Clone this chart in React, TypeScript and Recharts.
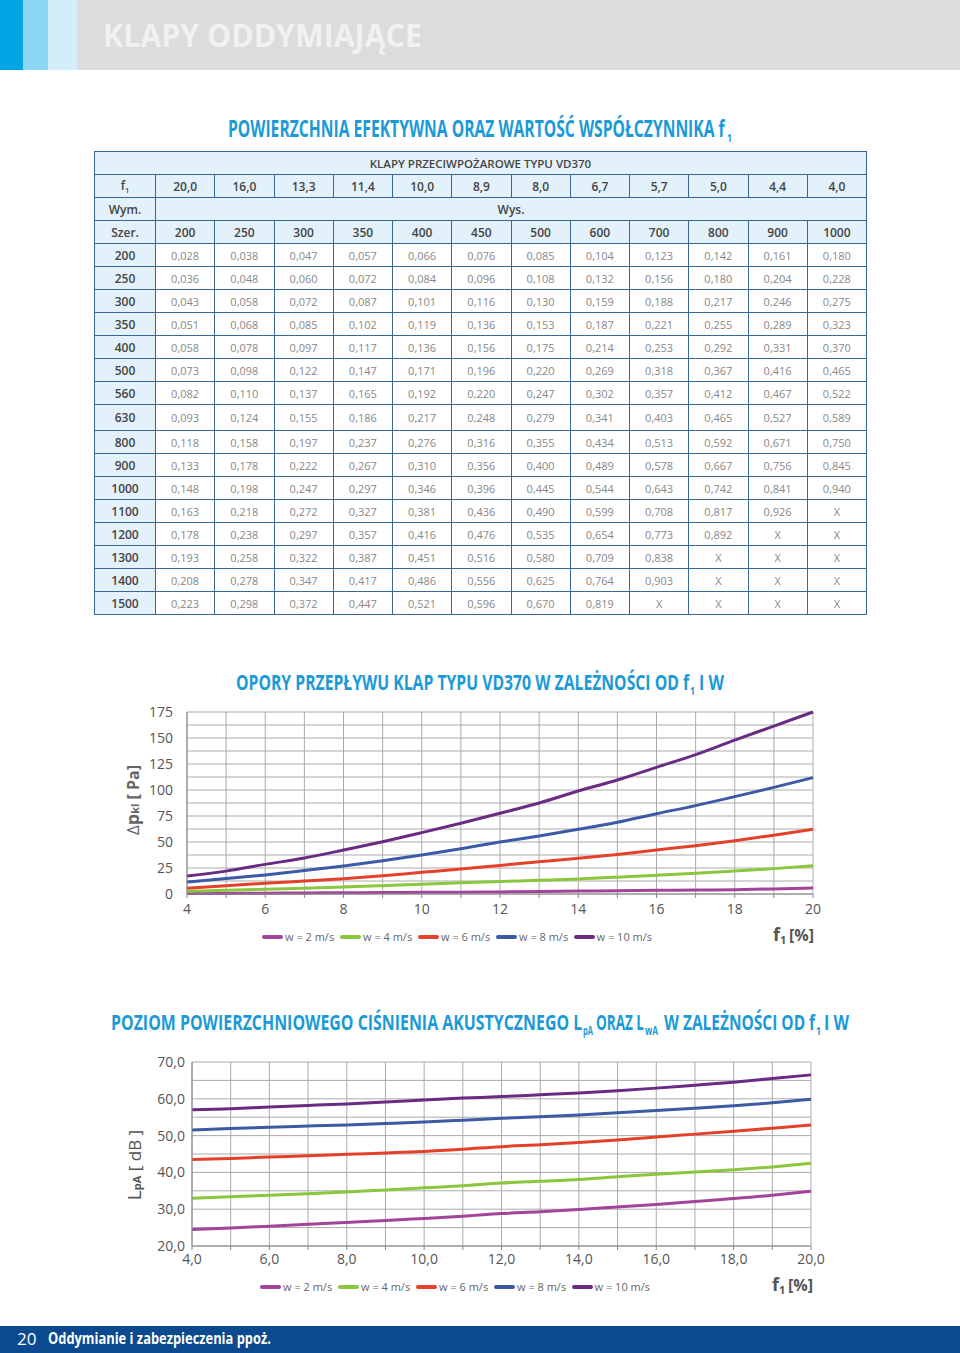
import React, { useLayoutEffect, useRef, useState } from 'react'
import { LineChart, Line, XAxis, YAxis, CartesianGrid } from 'recharts'

// ---- table data ----
const f1Row = ['20,0', '16,0', '13,3', '11,4', '10,0', '8,9', '8,0', '6,7', '5,7', '5,0', '4,4', '4,0']
const heightsRow = ['200', '250', '300', '350', '400', '450', '500', '600', '700', '800', '900', '1000']
const widthsCol = ['200', '250', '300', '350', '400', '500', '560', '630', '800', '900', '1000', '1100', '1200', '1300', '1400', '1500']
const areaRows = [
  ['0,028', '0,038', '0,047', '0,057', '0,066', '0,076', '0,085', '0,104', '0,123', '0,142', '0,161', '0,180'],
  ['0,036', '0,048', '0,060', '0,072', '0,084', '0,096', '0,108', '0,132', '0,156', '0,180', '0,204', '0,228'],
  ['0,043', '0,058', '0,072', '0,087', '0,101', '0,116', '0,130', '0,159', '0,188', '0,217', '0,246', '0,275'],
  ['0,051', '0,068', '0,085', '0,102', '0,119', '0,136', '0,153', '0,187', '0,221', '0,255', '0,289', '0,323'],
  ['0,058', '0,078', '0,097', '0,117', '0,136', '0,156', '0,175', '0,214', '0,253', '0,292', '0,331', '0,370'],
  ['0,073', '0,098', '0,122', '0,147', '0,171', '0,196', '0,220', '0,269', '0,318', '0,367', '0,416', '0,465'],
  ['0,082', '0,110', '0,137', '0,165', '0,192', '0,220', '0,247', '0,302', '0,357', '0,412', '0,467', '0,522'],
  ['0,093', '0,124', '0,155', '0,186', '0,217', '0,248', '0,279', '0,341', '0,403', '0,465', '0,527', '0,589'],
  ['0,118', '0,158', '0,197', '0,237', '0,276', '0,316', '0,355', '0,434', '0,513', '0,592', '0,671', '0,750'],
  ['0,133', '0,178', '0,222', '0,267', '0,310', '0,356', '0,400', '0,489', '0,578', '0,667', '0,756', '0,845'],
  ['0,148', '0,198', '0,247', '0,297', '0,346', '0,396', '0,445', '0,544', '0,643', '0,742', '0,841', '0,940'],
  ['0,163', '0,218', '0,272', '0,327', '0,381', '0,436', '0,490', '0,599', '0,708', '0,817', '0,926', 'X'],
  ['0,178', '0,238', '0,297', '0,357', '0,416', '0,476', '0,535', '0,654', '0,773', '0,892', 'X', 'X'],
  ['0,193', '0,258', '0,322', '0,387', '0,451', '0,516', '0,580', '0,709', '0,838', 'X', 'X', 'X'],
  ['0,208', '0,278', '0,347', '0,417', '0,486', '0,556', '0,625', '0,764', '0,903', 'X', 'X', 'X'],
  ['0,223', '0,298', '0,372', '0,447', '0,521', '0,596', '0,670', '0,819', 'X', 'X', 'X', 'X'],
]

// ---- chart data ----
const f1Axis = [4, 5, 6, 7, 8, 9, 10, 11, 12, 13, 14, 15, 16, 17, 18, 19, 20]

// opory przepływu [Pa]
const dpW2 = [0.4, 0.6, 0.8, 1.0, 1.2, 1.4, 1.6, 1.8, 2.0, 2.4, 2.8, 3.1, 3.5, 3.8, 4.2, 4.9, 5.8]
const dpW4 = [2.6, 3.5, 4.5, 5.6, 6.7, 8.0, 9.3, 10.7, 12.0, 13.2, 14.5, 16.2, 18.0, 20.0, 22.0, 24.4, 27.2]
const dpW6 = [5.5, 8.0, 10.3, 12.5, 14.7, 17.5, 20.8, 24.0, 27.5, 31.0, 34.3, 38.0, 42.3, 46.5, 51.3, 56.5, 62.2]
const dpW8 = [11.5, 14.8, 18.3, 22.5, 27.0, 32.0, 37.5, 43.5, 50.0, 55.8, 62.2, 69.0, 77.2, 85.0, 93.6, 102.5, 111.9]
const dpW10 = [17.3, 22.0, 28.5, 34.6, 42.3, 50.3, 59.0, 68.0, 77.6, 87.5, 99.0, 109.6, 121.8, 134.0, 148.0, 161.5, 175.0]
const dpTicks = [0, 12.5, 25, 37.5, 50, 62.5, 75, 87.5, 100, 112.5, 125, 137.5, 150, 162.5, 175]

// poziom ciśnienia akustycznego [dB]
const lpW2 = [24.5, 24.9, 25.4, 25.9, 26.4, 26.9, 27.5, 28.1, 28.8, 29.3, 29.9, 30.6, 31.3, 32.1, 32.9, 33.8, 34.9]
const lpW4 = [33.0, 33.4, 33.8, 34.2, 34.7, 35.2, 35.8, 36.4, 37.1, 37.6, 38.1, 38.8, 39.5, 40.1, 40.7, 41.5, 42.5]
const lpW6 = [43.5, 43.8, 44.2, 44.5, 44.9, 45.3, 45.7, 46.3, 47.0, 47.5, 48.1, 48.8, 49.6, 50.4, 51.2, 52.0, 52.9]
const lpW8 = [51.5, 51.9, 52.3, 52.6, 52.9, 53.3, 53.7, 54.2, 54.7, 55.1, 55.6, 56.2, 56.8, 57.4, 58.1, 58.9, 59.9]
const lpW10 = [57.0, 57.3, 57.8, 58.2, 58.6, 59.1, 59.7, 60.2, 60.6, 61.1, 61.6, 62.2, 62.9, 63.7, 64.5, 65.5, 66.5]
const lpTicks = [20, 25, 30, 35, 40, 45, 50, 55, 60, 65, 70]

const seriesNames = ['w = 2 m/s', 'w = 4 m/s', 'w = 6 m/s', 'w = 8 m/s', 'w = 10 m/s']
const seriesKeys = ['w2', 'w4', 'w6', 'w8', 'w10']
const seriesColors = ['#a3449b', '#8cc63f', '#e4412b', '#3c5aa5', '#6a2b82']

const dpData = f1Axis.map((f, i) => ({ f, w2: dpW2[i], w4: dpW4[i], w6: dpW6[i], w8: dpW8[i], w10: dpW10[i] }))
const lpData = f1Axis.map((f, i) => ({ f, w2: lpW2[i], w4: lpW4[i], w6: lpW6[i], w8: lpW8[i], w10: lpW10[i] }))

const BLUE = '#1b9ad7'
const GRID = '#ababab'
const TICK = { fill: '#555', fontSize: 14, fontFamily: '"Open Sans", sans-serif' }
const SANS = '"Open Sans", sans-serif'

// bold text squeezed horizontally (condensed look) to a given width
function Fit({ x, y, w, size, fill, children }: { x: number; y: number; w: number; size: number; fill: string; children: string }) {
  const ref = useRef<SVGTextElement>(null)
  const [k, setK] = useState(0.72)
  useLayoutEffect(() => {
    const n = ref.current ? ref.current.getComputedTextLength() : 0
    if (n > 0) setK(w / n)
  }, [w, children])
  return (
    <text ref={ref} transform={`translate(${x} ${y}) scale(${k} 1)`} fontFamily={SANS}
      fontWeight={700} fontSize={size} fill={fill}>
      {children}
    </text>
  )
}

function SizeTable() {
  const line = '1px solid #3a6896'
  const head = '#e3f1fa'
  const cell = (extra: React.CSSProperties = {}): React.CSSProperties => ({
    border: line, padding: 0, textAlign: 'center', ...extra,
  })
  const headTxt: React.CSSProperties = { color: '#444', fontWeight: 600, fontSize: 12, background: head }
  const valTxt: React.CSSProperties = { color: '#888', fontWeight: 400, fontSize: 11, background: '#fff' }
  return (
    <table style={{
      position: 'absolute', left: 94, top: 151, width: 772, borderCollapse: 'collapse',
      tableLayout: 'fixed', fontFamily: SANS, border: '1.5px solid #3a6896',
    }}>
      <colgroup>
        <col style={{ width: 61 }} />
        {f1Row.map((_, i) => <col key={i} style={{ width: 59.25 }} />)}
      </colgroup>
      <tbody>
        <tr style={{ height: 23 }}>
          <td colSpan={13} style={cell({ ...headTxt, fontSize: 11.5 })}>KLAPY PRZECIWPOŻAROWE  TYPU VD370</td>
        </tr>
        <tr style={{ height: 23 }}>
          <td style={cell(headTxt)}>f<sub style={{ fontSize: 7 }}>1</sub></td>
          {f1Row.map((v, i) => <td key={i} style={cell(headTxt)}>{v}</td>)}
        </tr>
        <tr style={{ height: 23 }}>
          <td style={cell(headTxt)}>Wym.</td>
          <td colSpan={12} style={cell(headTxt)}>Wys.</td>
        </tr>
        <tr style={{ height: 23 }}>
          <td style={cell(headTxt)}>Szer.</td>
          {heightsRow.map((v, i) => <td key={i} style={cell(headTxt)}>{v}</td>)}
        </tr>
        {areaRows.map((row, r) => (
          <tr key={r} style={{ height: widthsCol[r] === '630' ? 26 : 23 }}>
            <td style={cell(headTxt)}>{widthsCol[r]}</td>
            {row.map((v, i) => <td key={i} style={cell(valTxt)}>{v}</td>)}
          </tr>
        ))}
      </tbody>
    </table>
  )
}

function Legend({ left, top }: { left: number; top: number }) {
  return (
    <div style={{ position: 'absolute', left, top, display: 'flex', alignItems: 'center', fontFamily: SANS }}>
      {seriesNames.map((n, i) => (
        <div key={n} style={{ display: 'flex', alignItems: 'center', width: 78 }}>
          <span style={{ display: 'inline-block', width: 21, height: 4, borderRadius: 2, background: seriesColors[i], marginRight: 2 }} />
          <span style={{ fontSize: 11, color: '#666', whiteSpace: 'nowrap' }}>{n}</span>
        </div>
      ))}
    </div>
  )
}

function PressureChart() {
  return (
    <div style={{ position: 'absolute', left: 0, top: 700 }}>
      <LineChart width={960} height={260} data={dpData} margin={{ top: 12, right: 147, bottom: 36, left: 127 }}>
        <CartesianGrid stroke={GRID} />
        <XAxis
          dataKey="f" type="number" domain={[4, 20]} ticks={f1Axis} interval={0}
          tickFormatter={(v: number) => (v % 2 === 0 ? String(v) : '')}
          tick={TICK} tickSize={4} tickMargin={6}
          axisLine={{ stroke: '#888' }} tickLine={{ stroke: '#888' }}
        />
        <YAxis
          type="number" domain={[0, 175]} ticks={dpTicks} interval={0}
          tickFormatter={(v: number) => (v % 25 === 0 ? String(v) : '')}
          tick={TICK} tickSize={5} tickMargin={9}
          axisLine={{ stroke: '#888' }} tickLine={false}
        />
        {seriesKeys.map((k, i) => (
          <Line key={k} type="monotone" dataKey={k} stroke={seriesColors[i]} strokeWidth={3}
            dot={false} isAnimationActive={false} />
        ))}
      </LineChart>
    </div>
  )
}

function SoundChart() {
  return (
    <div style={{ position: 'absolute', left: 0, top: 1050 }}>
      <LineChart width={960} height={260} data={lpData} margin={{ top: 12, right: 149, bottom: 34, left: 132 }}>
        <CartesianGrid stroke={GRID} />
        <XAxis
          dataKey="f" type="number" domain={[4, 20]} ticks={f1Axis} interval={0}
          tickFormatter={(v: number) => (v % 2 === 0 ? v.toFixed(1).replace('.', ',') : '')}
          tick={TICK} tickSize={4} tickMargin={4}
          axisLine={{ stroke: '#888' }} tickLine={{ stroke: '#888' }}
        />
        <YAxis
          type="number" domain={[20, 70]} ticks={lpTicks} interval={0}
          tickFormatter={(v: number) => (v % 10 === 0 ? v.toFixed(1).replace('.', ',') : '')}
          tick={TICK} tickSize={5} tickMargin={2}
          axisLine={{ stroke: '#888' }} tickLine={false}
        />
        {seriesKeys.map((k, i) => (
          <Line key={k} type="monotone" dataKey={k} stroke={seriesColors[i]} strokeWidth={3}
            dot={false} isAnimationActive={false} />
        ))}
      </LineChart>
    </div>
  )
}

export default function App() {
  return (
    <div style={{ position: 'absolute', left: 0, top: 0, width: 960, height: 1353, background: '#fff', overflow: 'hidden' }}>
      {/* header band */}
      <div style={{ position: 'absolute', left: 0, top: 0, width: 960, height: 70, background: '#dcdcde' }} />
      <div style={{ position: 'absolute', left: 0, top: 0, width: 23, height: 70, background: '#00a6e4' }} />
      <div style={{ position: 'absolute', left: 23, top: 0, width: 25, height: 70, background: '#8dd5f5' }} />
      <div style={{ position: 'absolute', left: 48, top: 0, width: 29, height: 70, background: '#d3eefa' }} />
      {/* footer band */}
      <div style={{ position: 'absolute', left: 0, top: 1326, width: 960, height: 27, background: '#0b4a8f' }} />

      <SizeTable />
      <PressureChart />
      <SoundChart />
      <Legend left={262} top={929} />
      <Legend left={260} top={1279} />

      <svg width={960} height={1353} style={{ position: 'absolute', left: 0, top: 0, pointerEvents: 'none' }}>
        <Fit x={103} y={47} w={319} size={33} fill="#f1f1f1">KLAPY ODDYMIAJĄCE</Fit>

        <Fit x={228} y={137} w={497} size={24} fill={BLUE}>POWIERZCHNIA EFEKTYWNA ORAZ WARTOŚĆ WSPÓŁCZYNNIKA f</Fit>
        <Fit x={727} y={142} w={5} size={11} fill={BLUE}>1</Fit>

        <Fit x={236} y={690} w={453} size={21} fill={BLUE}>OPORY PRZEPŁYWU KLAP TYPU VD370 W ZALEŻNOŚCI OD f</Fit>
        <Fit x={690} y={695} w={5} size={10} fill={BLUE}>1</Fit>
        <Fit x={699} y={690} w={25} size={21} fill={BLUE}>I W</Fit>

        <Fit x={111} y={1030} w={471} size={21} fill={BLUE}>POZIOM POWIERZCHNIOWEGO CIŚNIENIA AKUSTYCZNEGO L</Fit>
        <Fit x={583} y={1035} w={10} size={12} fill={BLUE}>pA</Fit>
        <Fit x={596} y={1030} w={48} size={21} fill={BLUE}>ORAZ L</Fit>
        <Fit x={645} y={1035} w={13} size={12} fill={BLUE}>wA</Fit>
        <Fit x={664} y={1030} w={151} size={21} fill={BLUE}>W ZALEŻNOŚCI OD f</Fit>
        <Fit x={816} y={1035} w={5} size={10} fill={BLUE}>1</Fit>
        <Fit x={824} y={1030} w={25} size={21} fill={BLUE}>I W</Fit>

        {/* axis titles */}
        <text transform="rotate(-90 139 800)" x={139} y={800} textAnchor="middle" fontFamily={SANS} fill="#666">
          <tspan fontSize={17}>Δ</tspan><tspan fontSize={18} fontWeight={700}>p</tspan>
          <tspan fontSize={11} fontWeight={700}>kl</tspan><tspan fontSize={16} fontWeight={700}> [ Pa]</tspan>
        </text>
        <text transform="rotate(-90 141 1165)" x={141} y={1165} textAnchor="middle" fontFamily={SANS} fill="#555">
          <tspan fontSize={19}>L</tspan><tspan fontSize={11} fontWeight={700}>pA</tspan>
          <tspan fontSize={17}> [ dB ]</tspan>
        </text>
        <text x={773} y={941} fontFamily={SANS} fontWeight={700} fontSize={18} fill="#555">f</text>
        <text x={780} y={944} fontFamily={SANS} fontWeight={700} fontSize={11} fill="#555">1</text>
        <text x={789} y={941} fontFamily={SANS} fontWeight={700} fontSize={16} fill="#555">[%]</text>
        <text x={772} y={1291} fontFamily={SANS} fontWeight={700} fontSize={18} fill="#555">f</text>
        <text x={779} y={1294} fontFamily={SANS} fontWeight={700} fontSize={11} fill="#555">1</text>
        <text x={788} y={1291} fontFamily={SANS} fontWeight={700} fontSize={16} fill="#555">[%]</text>

        {/* footer */}
        <text x={17} y={1345} fontFamily={SANS} fontSize={17} fill="#fff">20</text>
        <Fit x={48} y={1344} w={223} size={16} fill="#fff">Oddymianie i zabezpieczenia ppoż.</Fit>
      </svg>
    </div>
  )
}
